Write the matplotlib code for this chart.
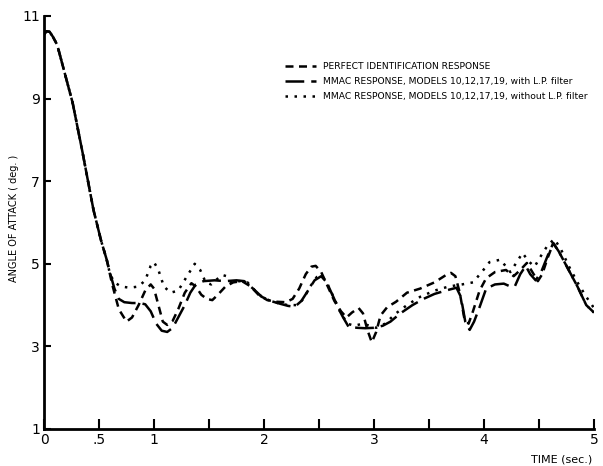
import numpy as np
import matplotlib
matplotlib.use("Agg")
import matplotlib.pyplot as plt

# shared initial transient (all three responses coincide here)
t_start = [0.0, 0.02, 0.05, 0.08, 0.12, 0.18, 0.26, 0.35, 0.45, 0.52]
a_start = [10.55, 10.63, 10.62, 10.5, 10.3, 9.7, 8.9, 7.7, 6.3, 5.55]

# perfect identification response
t_perfect = [0.57, 0.62, 0.68, 0.75, 0.80, 0.86, 0.92, 0.97, 1.0, 1.04, 1.08, 1.12,
             1.17, 1.22, 1.28, 1.34, 1.38, 1.43, 1.48, 1.53, 1.58, 1.65, 1.72, 1.8,
             1.88, 1.95, 2.03, 2.12, 2.2, 2.26, 2.32, 2.38, 2.43, 2.47, 2.52, 2.58,
             2.64, 2.7, 2.75, 2.8, 2.86, 2.9, 2.94, 2.98, 3.02, 3.06, 3.12, 3.2, 3.3,
             3.42, 3.55, 3.65, 3.7, 3.74, 3.78, 3.82, 3.86, 3.9, 3.96, 4.02, 4.1, 4.2,
             4.27, 4.33, 4.39, 4.44, 4.49, 4.53, 4.58, 4.63, 4.68, 4.75, 4.85, 4.93, 5.0]
a_perfect = [5.1, 4.5, 3.9, 3.6, 3.7, 4.0, 4.35, 4.5, 4.4, 4.0, 3.6, 3.52,
             3.62, 3.9, 4.3, 4.53, 4.45, 4.25, 4.15, 4.12, 4.25, 4.45, 4.55, 4.58,
             4.45, 4.25, 4.12, 4.08, 4.07, 4.15, 4.4, 4.75, 4.93, 4.95, 4.8, 4.45,
             4.1, 3.85, 3.7, 3.82, 3.93, 3.8, 3.4, 3.1, 3.35, 3.75, 3.95, 4.08, 4.3,
             4.4, 4.55, 4.72, 4.78, 4.7, 4.3, 3.7, 3.55, 3.85, 4.35, 4.65, 4.8, 4.85,
             4.7, 4.85, 5.02, 4.8, 4.58, 4.75, 5.15, 5.5, 5.3, 4.95, 4.45, 4.0, 3.82]

# MMAC with L.P. filter
t_lp = [0.57, 0.6, 0.64, 0.68, 0.73, 0.8, 0.87, 0.92, 0.97, 1.02, 1.07, 1.12, 1.17,
        1.22, 1.28, 1.33, 1.38, 1.45, 1.55, 1.65, 1.75, 1.82, 1.9, 1.98, 2.06, 2.15,
        2.22, 2.28, 2.34, 2.4, 2.46, 2.52, 2.57, 2.63, 2.68, 2.72, 2.77, 2.85, 2.92,
        3.0, 3.08, 3.15, 3.24, 3.35, 3.45, 3.55, 3.65, 3.75, 3.79, 3.83, 3.87, 3.91,
        3.96, 4.02, 4.1, 4.18, 4.24, 4.28, 4.33, 4.38, 4.42, 4.47, 4.52, 4.58, 4.63,
        4.68, 4.75, 4.85, 4.93, 5.0]
a_lp = [5.1, 4.78, 4.4, 4.15, 4.07, 4.05, 4.05, 4.02, 3.85, 3.55, 3.38, 3.35, 3.45,
        3.7, 4.0, 4.3, 4.5, 4.58, 4.6, 4.58, 4.6, 4.58, 4.4, 4.2, 4.1, 4.03,
        3.98, 3.96, 4.1, 4.35, 4.6, 4.7, 4.55, 4.2, 3.9, 3.7, 3.47, 3.45, 3.44,
        3.45, 3.5, 3.6, 3.8, 4.0, 4.15, 4.27, 4.35, 4.42, 4.2, 3.6, 3.4, 3.6,
        3.95, 4.4, 4.5, 4.52, 4.45, 4.45, 4.75, 4.95, 4.75, 4.6, 4.8, 5.2, 5.5,
        5.3, 4.95, 4.45, 4.0, 3.82]

# MMAC without L.P. filter
t_nolp = [0.57, 0.6, 0.64, 0.7, 0.78, 0.86, 0.92, 0.97, 1.0, 1.04, 1.09, 1.15, 1.22,
          1.3, 1.37, 1.42, 1.47, 1.52, 1.57, 1.62, 1.66, 1.7, 1.78, 1.85, 1.9, 1.98,
          2.06, 2.15, 2.22, 2.3, 2.36, 2.42, 2.48, 2.53, 2.58, 2.64, 2.7, 2.76, 2.82,
          2.9, 2.96, 3.02, 3.1, 3.2, 3.3, 3.42, 3.55, 3.68, 3.8, 3.9, 3.98, 4.05,
          4.15, 4.24, 4.3, 4.35, 4.41, 4.46, 4.52, 4.58, 4.64, 4.7, 4.77, 4.85, 4.93, 5.0]
a_nolp = [5.1, 4.75, 4.55, 4.45, 4.42, 4.45, 4.6, 4.95, 5.04, 4.85, 4.45, 4.3, 4.35,
          4.7, 5.0, 4.85, 4.55, 4.5, 4.62, 4.73, 4.7, 4.55, 4.58, 4.55, 4.4, 4.2,
          4.1, 4.03, 4.0, 4.0, 4.15, 4.45, 4.68, 4.7, 4.5, 4.15, 3.8, 3.55, 3.5,
          3.55, 3.5, 3.45, 3.55, 3.8, 4.0, 4.2, 4.35, 4.45, 4.5, 4.55, 4.8, 5.04,
          5.1, 4.8, 5.05, 5.26, 5.05, 4.93, 5.2, 5.45, 5.6, 5.35, 4.95, 4.55, 4.2, 3.93]

labels = ["PERFECT IDENTIFICATION RESPONSE",
          "MMAC RESPONSE, MODELS 10,12,17,19, with L.P. filter",
          "MMAC RESPONSE, MODELS 10,12,17,19, without L.P. filter"]

xticks = [0, 0.5, 1, 1.5, 2, 2.5, 3, 3.5, 4, 4.5, 5]
xticklabels = ["0", ".5", "1", "", "2", "", "3", "", "4", "", "5"]
yticks = [1, 3, 5, 7, 9, 11]

fig = plt.figure(figsize=(6.03, 4.66), dpi=100)
ax = fig.add_axes([0.073, 0.0794, 0.912, 0.8863])

lw = 1.8
ax.plot(t_start + t_perfect, a_start + a_perfect, color="black", lw=lw,
        dashes=(3.2, 2.2), label=labels[0])
ax.plot(t_start + t_lp, a_start + a_lp, color="black", lw=lw,
        dashes=(7.5, 2.8), label=labels[1])
ax.plot(t_start + t_nolp, a_start + a_nolp, color="black", lw=lw,
        dashes=(1.0, 2.6), label=labels[2])

ax.set_xlim(0, 5)
ax.set_ylim(1, 11)
ax.set_xticks(xticks)
ax.set_xticklabels(xticklabels)
ax.set_yticks(yticks)
ax.tick_params(direction="in", width=1.5, labelsize=10)
ax.tick_params(axis="x", length=7, pad=3)
ax.tick_params(axis="y", length=5, pad=3)
for s in ["top", "right"]:
    ax.spines[s].set_visible(False)
for s in ["left", "bottom"]:
    ax.spines[s].set_linewidth(2)

ax.set_ylabel("ANGLE OF ATTACK ( deg. )", fontsize=7)
ax.yaxis.set_label_coords(-0.045, 0.51)

ax.legend(loc="upper left", bbox_to_anchor=(285 / 603, 1 - 62 / 466),
          bbox_transform=fig.transFigure, frameon=False, fontsize=6.6,
          handlelength=3.4, handletextpad=0.7, labelspacing=0.65,
          borderpad=0, borderaxespad=0)

fig.text(562 / 603, 1 - 462 / 466, "TIME (sec.)", fontsize=8, ha="center")

fig.savefig("out.png", dpi=100)
